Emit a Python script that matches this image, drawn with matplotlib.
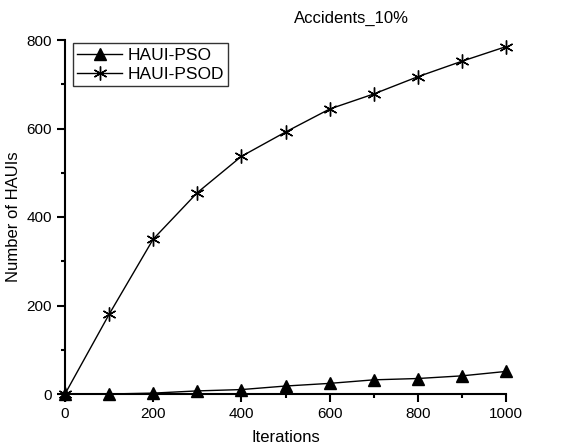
import matplotlib
matplotlib.use("Agg")
import matplotlib.pyplot as plt
from matplotlib.ticker import MultipleLocator

plt.rcParams['font.family'] = ['Liberation Sans', 'DejaVu Sans']

# Data
iterations = [0, 100, 200, 300, 400, 500, 600, 700, 800, 900, 1000]
haui_pso = [0, 0, 2, 7, 10, 18, 24, 32, 35, 41, 51]
haui_psod = [0, 180, 350, 455, 537, 592, 644, 678, 717, 752, 785]

fig = plt.figure(figsize=(5.65, 4.46), dpi=100)
ax = fig.add_axes([65 / 565, 52 / 446, 441 / 565, 354 / 446])

ax.plot(iterations, haui_pso, color='black', lw=1, marker='^', ms=8,
        label='HAUI-PSO', clip_on=False, zorder=3)
ax.plot(iterations, haui_psod, color='black', lw=1, marker=(6, 2, 0), ms=10,
        mew=1, label='HAUI-PSOD', clip_on=False, zorder=3)

ax.set_xlim(0, 1000)
ax.set_ylim(0, 800)
ax.xaxis.set_major_locator(MultipleLocator(200))
ax.xaxis.set_minor_locator(MultipleLocator(100))
ax.yaxis.set_major_locator(MultipleLocator(200))
ax.yaxis.set_minor_locator(MultipleLocator(100))
ax.tick_params(which='major', direction='out', length=6, width=1.5, labelsize=11)
ax.tick_params(which='minor', direction='out', length=3, width=1.5)

ax.spines['top'].set_visible(False)
ax.spines['right'].set_visible(False)
ax.spines['left'].set_linewidth(1.5)
ax.spines['bottom'].set_linewidth(1.5)

ax.set_xlabel('Iterations', fontsize=12)
ax.set_ylabel('Number of HAUIs', fontsize=12)
ax.xaxis.set_label_coords(0.5, -0.122, transform=ax.transAxes)
ax.yaxis.set_label_coords(-0.116, 0.5, transform=ax.transAxes)
ax.xaxis.label.set_va('center')
ax.yaxis.label.set_va('center')
fig.text(351 / 565, 1 - 18 / 446, 'Accidents_10%', ha='center', va='center', fontsize=12)

leg = ax.legend(loc='upper left', bbox_to_anchor=(0.01, 1.0), fontsize=12.5,
                frameon=True, fancybox=False, edgecolor='black',
                handlelength=2.6, borderpad=0.25, labelspacing=0.2,
                handletextpad=0.3, borderaxespad=0.2)
leg.get_frame().set_linewidth(1)

fig.savefig('out.png', dpi=100)
